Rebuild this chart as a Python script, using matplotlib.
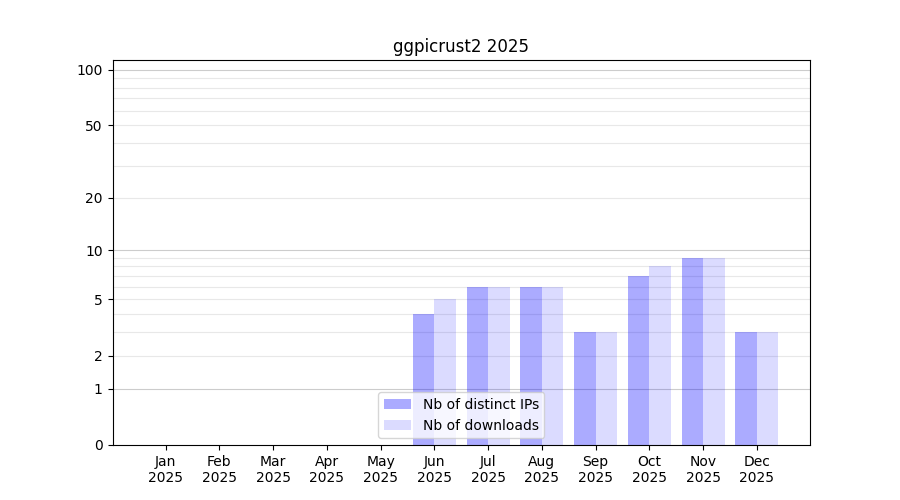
import numpy as np
import matplotlib.pyplot as plt

months = ["Jan", "Feb", "Mar", "Apr", "May", "Jun",
          "Jul", "Aug", "Sep", "Oct", "Nov", "Dec"]
year = "2025"
distinct_ips = [0, 0, 0, 0, 0, 4, 6, 6, 3, 7, 9, 3]
downloads = [0, 0, 0, 0, 0, 5, 6, 6, 3, 8, 9, 3]
ytick_values = [0, 1, 2, 5, 10, 20, 50, 100]


def forward(v):
    return np.log10(1 + np.asarray(v))


def inverse(v):
    return 10 ** np.asarray(v) - 1


fig, ax = plt.subplots(figsize=(9, 5), dpi=100)
ax.set_yscale("function", functions=(forward, inverse))

x = np.arange(len(months))

# grid lines: decades darker, the rest faint
for dec in [1, 10]:
    for k in range(2, 10):
        ax.axhline(k * dec, color="#e8e8e8", linewidth=0.8, zorder=0)
for v in [1, 10, 100]:
    ax.axhline(v, color="#cccccc", linewidth=0.8, zorder=0)

ax.bar(x, distinct_ips, width=-0.4, align="edge", color="blue",
       alpha=0.33, label="Nb of distinct IPs", zorder=2)
ax.bar(x, downloads, width=0.4, align="edge", color="blue",
       alpha=0.14, label="Nb of downloads", zorder=2)

ax.set_ylim(0, 113)
ax.set_yticks(ytick_values)
ax.set_yticklabels([str(v) for v in ytick_values])
ax.minorticks_off()

ax.set_xticks(x)
ax.set_xticklabels([m + "\n" + year for m in months])

ax.set_title("ggpicrust2 " + year)
ax.legend(loc="lower center")

plt.savefig("out.png", dpi=100)
